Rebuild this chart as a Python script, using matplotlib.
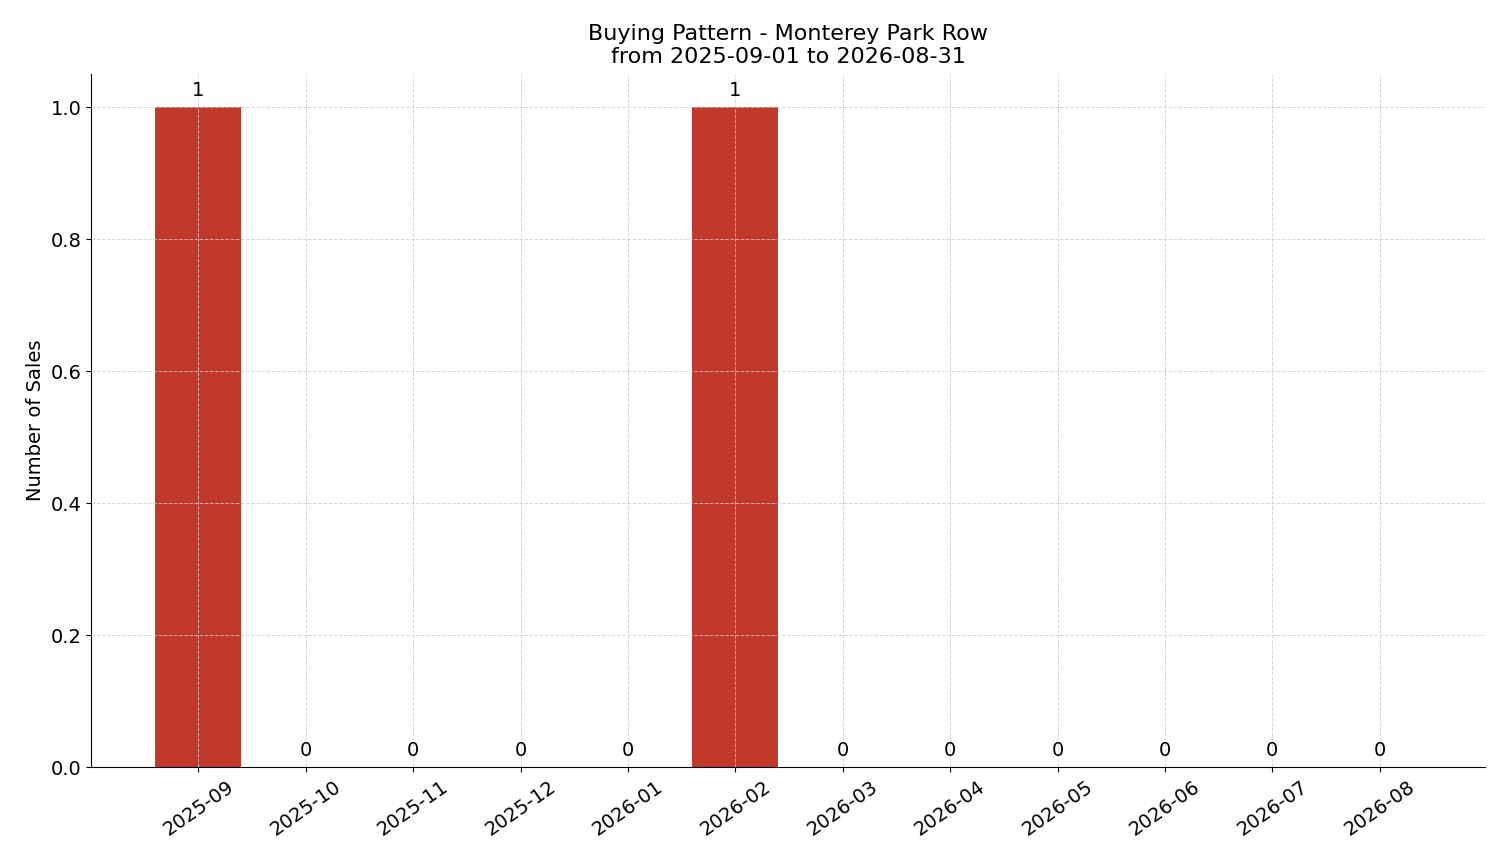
import matplotlib
matplotlib.use("Agg")
import matplotlib.pyplot as plt

months = ["2025-09","2025-10","2025-11","2025-12","2026-01","2026-02",
          "2026-03","2026-04","2026-05","2026-06","2026-07","2026-08"]
sales = [1,0,0,0,0,1,0,0,0,0,0,0]

fig = plt.figure(figsize=(15.01, 8.63), dpi=100)
ax = fig.add_axes([91/1501, 1-767/863, (1485-91)/1501, (767-74)/863])
x = range(len(months))
bars = ax.bar(x, sales, width=0.8, color="#c0392b")
for xi, v in zip(x, sales):
    ax.text(xi, v + 0.01, str(v), ha="center", va="bottom", fontsize=14)
ax.set_xticks(list(x))
ax.set_xticklabels(months, rotation=35, fontsize=14)
ax.tick_params(axis="y", labelsize=14)
ax.set_xlim(-1.0, 11.98)
ax.set_ylim(0, 1.05)
ax.grid(True, linestyle="--", color="#cccccc", linewidth=0.7, alpha=0.8)
ax.set_axisbelow(False)
ax.spines["top"].set_visible(False)
ax.spines["right"].set_visible(False)
ax.set_ylabel("Number of Sales", fontsize=14)
ax.set_title("Buying Pattern - Monterey Park Row\nfrom 2025-09-01 to 2026-08-31", fontsize=16, pad=8)
fig.savefig("out.png", dpi=100)
